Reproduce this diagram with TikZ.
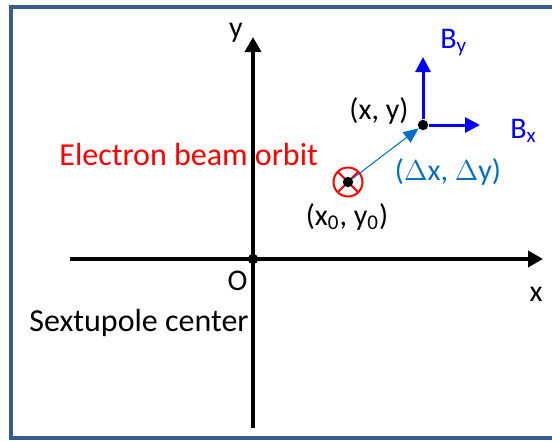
\documentclass[tikz,border=0pt]{standalone}
\usepackage{fontspec}
\setmainfont{Carlito}
\usetikzlibrary{arrows.meta,positioning}
\definecolor{frameblue}{HTML}{385D8A}
\definecolor{fieldblue}{HTML}{0000FF}
\definecolor{shiftblue}{HTML}{0070C0}

\begin{document}
\begin{tikzpicture}[
			x=0.5pt,y=-0.5pt,
			every node/.style={font=\fontsize{15}{18}\selectfont,inner sep=0pt},
			frame/.style={draw=frameblue,line width=2.25pt},
			axis/.style={-{Triangle[length=7.5pt,width=8pt]},line width=1.8pt},
			field/.style={-{Triangle[length=7.5pt,width=7.5pt]},line width=1.5pt,draw=fieldblue},
			shiftarr/.style={-{Triangle[length=7.5pt,width=6.5pt]},line width=0.5pt,draw=shiftblue,fill=shiftblue},
			dot/.style={circle,fill=black,minimum size=5.2pt,inner sep=0pt},
			beam/.style={circle,draw=red,line width=1pt,minimum size=14.5pt,inner sep=0pt,outer sep=0pt},
			cross/.style={draw=red,line width=1pt}
			]
			\useasboundingbox (0,0) rectangle (552,441);
			\draw[frame] (552,7) -- (11,7) -- (11,438) -- (552,438);
			% labels
			\node[anchor=base west,text=red,font=\fontsize{16}{19}\selectfont] (orbit) at (59,165) {Electron beam orbit};
			\node[anchor=base west,font=\fontsize{16}{19}\selectfont] (center) at (29,331) {Sextupole center};
			% axes
			\node[dot] (O) at (253,259) {};
			\coordinate (xl) at (70,259);
			\coordinate (xr) at (543,259);
			\coordinate (yb) at (253,428);
			\coordinate (yt) at (253,37);
			\draw[axis] (xl) -- (xr);
			\draw[axis] (yb) -- (yt);
			\node (ylab) at (236,33) {y};
			\node[anchor=north east] (olab) at (248,271) {O};
			\node (xlab) at (536,294) {x};
			% beam and field point
			\node[beam] (beam) at (348,182) {};
			\draw[cross] (beam.north west) -- (beam.south east) (beam.north east) -- (beam.south west);
			\node[dot] (P0) at (348,182) {};
			\node[dot] (P) at (423,125) {};
			\coordinate (by) at (423,57);
			\coordinate (bx) at (480,125);
			\draw[field] (P) -- (by);
			\draw[field] (P) -- (bx);
			\draw[shiftarr] (P0) -- (P);
			\node (pxy) at (379,111) {(x, y)};
			\node (pxy0) at (347,217) {(x\textsubscript{0}, y\textsubscript{0})};
			\node[anchor=base west,text=fieldblue] (bylab) at (440,48) {B\textsubscript{y}};
			\node[anchor=base west,text=fieldblue] (bxlab) at (510,138) {B\textsubscript{x}};
			\node[text=shiftblue] (dlab) at (448,172) {($\Delta$x, $\Delta$y)};
		\end{tikzpicture}
\end{document}
